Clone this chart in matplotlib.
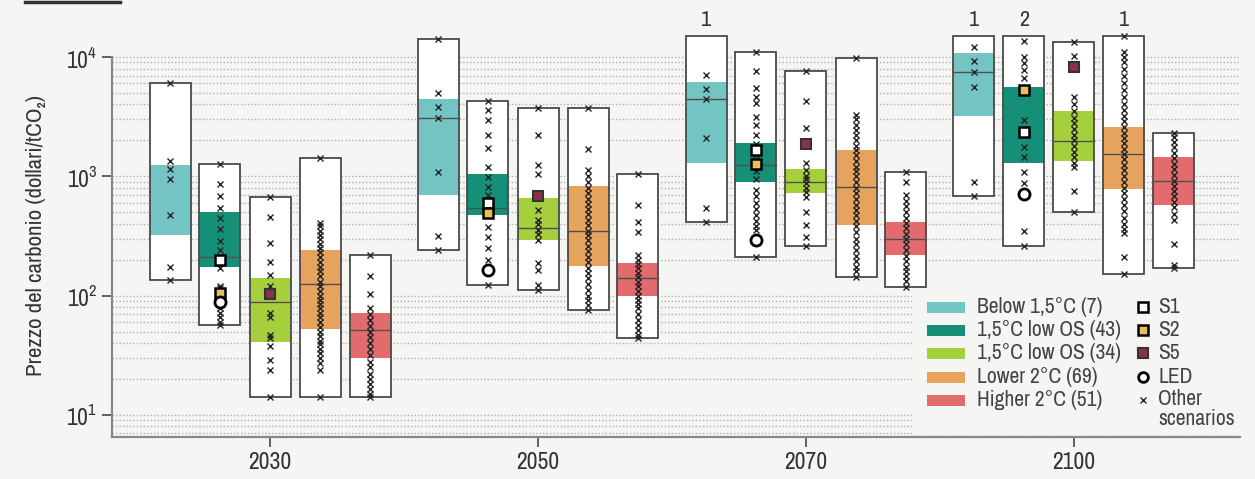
import matplotlib
matplotlib.use('Agg')
import matplotlib.pyplot as plt
from matplotlib.patches import Rectangle
from matplotlib.lines import Line2D

plt.rcParams['font.family'] = ['Archivo Narrow', 'DejaVu Sans']
plt.rcParams['mathtext.fontset'] = 'custom'
plt.rcParams['mathtext.rm'] = 'Archivo Narrow'
plt.rcParams['mathtext.default'] = 'regular'

# ---------------- data ----------------
years = ["2030", "2050", "2070", "2100"]
categories = ["Below 1,5°C (7)", "1,5°C low OS (43)", "1,5°C low OS (34)",
              "Lower 2°C (69)", "Higher 2°C (51)"]
colors = ["#74c4c4", "#168f78", "#a6cf3e", "#e6a35e", "#e26b6d"]
marker_labels = ["S1", "S2", "S5", "LED", "Other\nscenarios"]

# whole range (min / max) per category (rows) and year (columns)
range_lo = [[135, 241, 411, 688],
            [57, 123, 212, 260],
            [14.2, 111, 260, 505],
            [14.2, 76, 144, 151],
            [14.2, 44, 119, 171]]
range_hi = [[6000, 14150, 15100, 15000],
            [1260, 4280, 11080, 15000],
            [675, 3715, 7680, 13280],
            [1430, 3715, 9880, 15000],
            [219, 1045, 1080, 2320]]
band_lo = [[322, 697, 1285, 3203],
           [175, 474, 901, 1300],
           [41, 292, 720, 1351],
           [53, 177, 391, 783],
           [30, 99, 219, 575]]
band_hi = [[1245, 4420, 6210, 10870],
           [505, 1045, 1913, 5640],
           [140, 654, 1145, 3548],
           [241, 829, 1661, 2575],
           [71, 187, 411, 1443]]
medians = [[None, 3065, 4420, 7530],
           [210, 540, 1244, None],
           [89, 367, 891, 1977],
           [125, 350, 818, 1538],
           [52, 140, 300, 919]]

# other scenarios, per year: one list per category
others_2030 = [
    [6000, 1350, 1150, 950, 470, 175, 135],
    [1260, 860, 680, 540, 450, 360, 285, 240, 170, 120, 115, 78, 72, 66, 60, 57],
    [675, 460, 275, 190, 150, 120, 100, 72, 66, 47, 44, 38, 29, 24, 14.2],
    [1430, 406, 380, 350, 320, 300, 270, 250, 230, 210, 190, 175, 160, 145, 130, 120,
     110, 100, 92, 85, 78, 72, 66, 60, 55, 50, 46, 42, 39, 36, 33, 30, 27, 24, 14.2],
    [219, 146, 104, 79, 70, 62, 56, 50, 45, 40, 36, 32, 28, 25, 22, 20, 18, 16.5, 15, 14.2],
]
others_2050 = [
    [14150, 5020, 3830, 3065, 1093, 316, 241],
    [4280, 3595, 2965, 2220, 1717, 1204, 993, 818, 700, 378, 312, 249, 199, 123],
    [3715, 2220, 1244, 1045, 522, 430, 400, 355, 330, 292, 187, 164, 123, 111],
    [3715, 1700, 1130, 1000, 900, 800, 720, 650, 590, 530, 480, 430, 390, 350, 320, 290,
     260, 235, 210, 190, 170, 155, 140, 125, 112, 100, 92, 84, 76],
    [1045, 575, 417, 343, 219, 200, 185, 170, 155, 142, 130, 120, 110, 100, 92, 85, 78,
     70, 63, 57, 52, 47, 44],
]
others_2070 = [
    [7070, 5390, 4420, 2082, 539, 411],
    [11080, 7630, 5470, 4590, 4090, 3160, 2690, 2220, 1850, 1500, 1100, 950, 768, 680,
     600, 530, 470, 420, 380, 355, 212],
    [7680, 4300, 2525, 1285, 1130, 1000, 950, 880, 800, 740, 675, 505, 391, 312, 260],
    [9880, 3265, 3000, 2700, 2450, 2200, 2000, 1800, 1650, 1500, 1350, 1200, 1100, 1000,
     900, 800, 720, 650, 580, 520, 470, 420, 380, 340, 300, 270, 240, 215, 195, 175, 160, 144],
    [1080, 901, 697, 620, 560, 500, 450, 410, 370, 330, 300, 270, 240, 215, 195, 175, 160,
     145, 132, 119],
]
others_2100 = [
    [12060, 9310, 7530, 5570, 891, 688],
    [13700, 10070, 8850, 7780, 6630, 2965, 1771, 1460, 1093, 874, 350, 260],
    [13280, 10200, 4590, 4000, 3500, 3100, 2800, 2500, 2200, 2000, 1800, 1600, 1450, 1300,
     1200, 757, 505],
    [15000, 11080, 10000, 9000, 8000, 7000, 6000, 5300, 4600, 4000, 3600, 3200, 2900, 2600,
     2300, 2100, 1900, 1700, 1550, 1400, 1250, 1120, 1000, 900, 800, 720, 640, 570, 510,
     450, 400, 360, 333, 212, 151],
    [2320, 2150, 1950, 1750, 1580, 1420, 1280, 1150, 1030, 920, 830, 750, 680, 610, 550,
     480, 430, 271, 181, 171],
]
others = [others_2030, others_2050, others_2070, others_2100]

# illustrative pathways (value per year) and the category they sit in
s1_values = [200, 600, 1660, 2365]
s2_values = [105, 490, 1268, 5290]
s5_values = [104, 684, 1855, 8195]
led_values = [88, 164, 292, 707]
s1_cat, s2_cat, s5_cat, led_cat = 1, 1, 2, 1

# counts of values above the chart
note_year = [2, 3, 3, 3]
note_cat = [0, 0, 1, 3]
note_text = ["1", "1", "2", "1"]

# ---------------- figure ----------------
W, H = 1255, 479
bg = "#f5f5f3"
fig = plt.figure(figsize=(W / 100, H / 100), dpi=100, facecolor=bg)
AX_L, AX_R, AX_B, AX_T = 112, 1240, 437, 0
ax = fig.add_axes([AX_L / W, (H - AX_B) / H, (AX_R - AX_L) / W, (AX_B - AX_T) / H])
ax.set_facecolor(bg)
ax.set_yscale('log')
ax.set_ylim(6.53, 30060)
ax.set_xlim(-0.59, 3.62)


def axx(px):
    return (px - AX_L) / (AX_R - AX_L)


def axy(py):
    return (AX_B - py) / (AX_B - AX_T)


# dotted grid lines
grid_vals = [m * 10 ** e for e in range(0, 4) for m in range(1, 10)] + [10000]
grid_vals = [g for g in grid_vals if g >= 7]
for g in grid_vals:
    ax.axhline(g, color="#b0b0b0", lw=1.0, ls=(0, (1, 1.5)), zorder=0)

offsets = [-0.373, -0.187, 0.0, 0.187, 0.373]
width = 0.153
mk = dict(ls="none", zorder=6)

for yi in range(len(years)):
    for ci in range(len(categories)):
        xc = yi + offsets[ci]
        lo, hi = range_lo[ci][yi], range_hi[ci][yi]
        ax.add_patch(Rectangle((xc - width / 2, lo), width, hi - lo, facecolor="white",
                               edgecolor="none", zorder=1))
        bl, bh = band_lo[ci][yi], band_hi[ci][yi]
        ax.add_patch(Rectangle((xc - width / 2, bl), width, bh - bl, facecolor=colors[ci],
                               edgecolor="none", zorder=2))
        ax.add_patch(Rectangle((xc - width / 2, lo), width, hi - lo, facecolor="none",
                               edgecolor="#4a4a4a", lw=1.3, zorder=3))
        med = medians[ci][yi]
        if med is not None:
            ax.plot([xc - width / 2, xc + width / 2], [med, med], color="#4f4f4f",
                    lw=1.0, zorder=3)
        vals = others[yi][ci]
        ax.plot([xc] * len(vals), vals, ls="none", marker="x", ms=5, mew=1.0,
                color="#262626", zorder=4)

xs = list(range(len(years)))
ax.plot([x + offsets[s1_cat] for x in xs], s1_values, marker="s", ms=7.5,
        mfc="white", mec="black", mew=1.8, **mk)
ax.plot([x + offsets[s2_cat] for x in xs], s2_values, marker="s", ms=7.5,
        mfc="#e9bf5e", mec="black", mew=1.8, **mk)
ax.plot([x + offsets[s5_cat] for x in xs], s5_values, marker="s", ms=7.5,
        mfc="#8a3345", mec="#333333", mew=1.5, **mk)
ax.plot([x + offsets[led_cat] for x in xs], led_values, marker="o", ms=8,
        mfc="white", mec="black", mew=2.0, **mk)

for yi, ci, t in zip(note_year, note_cat, note_text):
    ax.text(yi + offsets[ci], 20500, t, ha="center", va="center", fontsize=16,
            color="#333333")

# axes styling
ax.set_xticks(xs)
ax.set_xticklabels(years)
ax.set_yticks([10, 100, 1000, 10000])
ax.set_yticklabels([r"$10^{1}$", r"$10^{2}$", r"$10^{3}$", r"$10^{4}$"])
ax.yaxis.set_minor_locator(plt.NullLocator())
ax.tick_params(axis="both", colors="#555555", labelcolor="#333333", labelsize=17,
               length=7, width=1.3)
for s in ["top", "right"]:
    ax.spines[s].set_visible(False)
for s in ["left", "bottom"]:
    ax.spines[s].set_color("#888888")
    ax.spines[s].set_linewidth(1.6)
ax.spines["left"].set_bounds(6.53, 10000)
ax.set_ylabel("Prezzo del carbonio (dollari/tCO₂)", fontsize=16.5, color="#333333")
ax.yaxis.set_label_coords(axx(46), axy(235))

# legend (drawn in axes fraction coordinates)
ax.add_patch(Rectangle((axx(912), axy(434)), axx(1240) - axx(912), axy(293) - axy(434),
                       transform=ax.transAxes, facecolor=bg, edgecolor="none", zorder=7))
row_y = [307, 330, 353, 377, 400]
for ci in range(len(categories)):
    yy = axy(row_y[ci])
    hh = axy(row_y[ci] - 5.5) - yy
    ax.add_patch(Rectangle((axx(927), yy - hh), axx(965) - axx(927), 2 * hh,
                           transform=ax.transAxes, facecolor=colors[ci],
                           edgecolor="none", zorder=8))
    ax.text(axx(977), yy, categories[ci], transform=ax.transAxes, ha="left",
            va="center", fontsize=15.5, color="#444444", zorder=8)

mx = axx(1143)
leg_marks = [dict(marker="s", ms=7, mfc="white", mec="black", mew=1.8),
             dict(marker="s", ms=7, mfc="#e9bf5e", mec="black", mew=1.8),
             dict(marker="s", ms=7, mfc="#8a3345", mec="#333333", mew=1.5),
             dict(marker="o", ms=7, mfc="white", mec="black", mew=2.0),
             dict(marker="x", ms=4.5, mew=1.0, color="#262626")]
for i, lab in enumerate(marker_labels):
    yy = axy(row_y[i])
    ax.plot([mx], [yy], transform=ax.transAxes, ls="none", zorder=9, clip_on=False,
            **leg_marks[i])
    two_lines = "\n" in lab
    ax.text(axx(1158), axy(row_y[i] - 11) if two_lines else yy, lab,
            transform=ax.transAxes, ha="left", va="top" if two_lines else "center",
            fontsize=15.5, color="#444444", zorder=9, linespacing=1.0)

# short rule at top-left
fig.add_artist(Line2D([25 / W, 120 / W], [1 - 2 / H, 1 - 2 / H],
                      color="#333333", lw=2.5))

fig.savefig("out.png", dpi=100, facecolor=bg)
